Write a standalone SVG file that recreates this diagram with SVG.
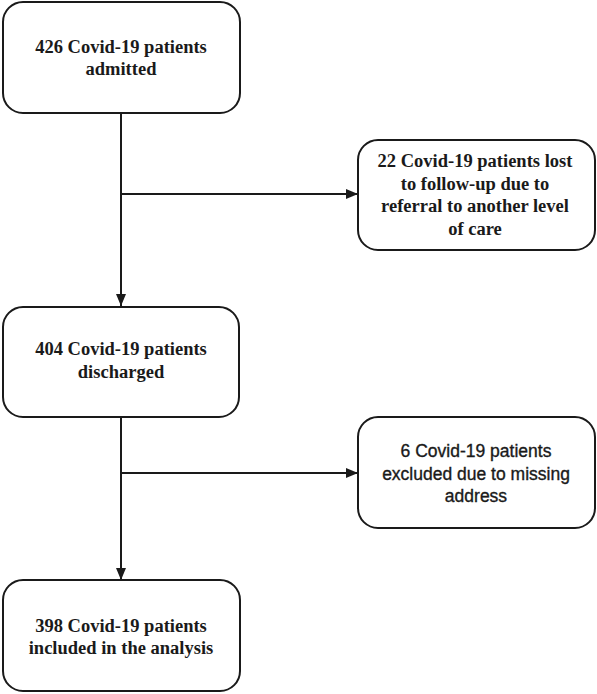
<svg xmlns="http://www.w3.org/2000/svg" width="597" height="694" viewBox="0 0 597 694">
<defs>
<marker id="arr" viewBox="0 0 12 10" refX="12" refY="5" markerWidth="12" markerHeight="10" markerUnits="userSpaceOnUse" orient="auto">
<path d="M0,0 L12,5 L0,10 Z" fill="#1a1a1a"/>
</marker>
<style>
.box{fill:#fff;stroke:#1a1a1a;stroke-width:2}
.serif{font-family:"Liberation Serif","Times New Roman",serif;font-weight:bold;font-size:18.5px;fill:#1a1a1a;text-anchor:middle}
.sans{font-family:"Liberation Sans",Arial,sans-serif;font-size:17.5px;fill:#1a1a1a;stroke:#1a1a1a;stroke-width:0.35;text-anchor:middle}
.line{fill:none;stroke:#1a1a1a;stroke-width:2}
</style>
</defs>
<rect width="597" height="694" fill="#fff"/>
<g id="connectors">
<line class="line" x1="121" y1="113" x2="121" y2="306" marker-end="url(#arr)"/>
<line class="line" x1="121" y1="194" x2="358" y2="194" marker-end="url(#arr)"/>
<line class="line" x1="121" y1="417" x2="121" y2="580" marker-end="url(#arr)"/>
<line class="line" x1="121" y1="473" x2="358" y2="473" marker-end="url(#arr)"/>
</g>
<g id="n1">
<rect class="box" x="3" y="2" width="237" height="111" rx="20"/>
<text class="serif" x="121" y="53">426 Covid-19 patients</text>
<text class="serif" x="121" y="75">admitted</text>
</g>
<g id="n2">
<rect class="box" x="358" y="140" width="237" height="110" rx="20"/>
<text class="serif" x="475" y="167">22 Covid-19 patients lost</text>
<text class="serif" x="475" y="189.5">to follow-up  due to</text>
<text class="serif" x="475" y="212">referral  to another level</text>
<text class="serif" x="475" y="234.5">of care</text>
</g>
<g id="n3">
<rect class="box" x="3" y="307" width="236" height="110" rx="20"/>
<text class="serif" x="121" y="355">404  Covid-19 patients</text>
<text class="serif" x="121" y="378">discharged</text>
</g>
<g id="n4">
<rect class="box" x="358" y="417" width="237" height="111" rx="20"/>
<text class="sans" x="476" y="457">6 Covid-19 patients</text>
<text class="sans" x="476" y="480">excluded due to missing</text>
<text class="sans" x="476" y="502">address</text>
</g>
<g id="n5">
<rect class="box" x="3" y="580" width="237" height="111" rx="20"/>
<text class="serif" x="121" y="632">398  Covid-19 patients</text>
<text class="serif" x="121" y="654">included in the analysis</text>
</g>
</svg>
